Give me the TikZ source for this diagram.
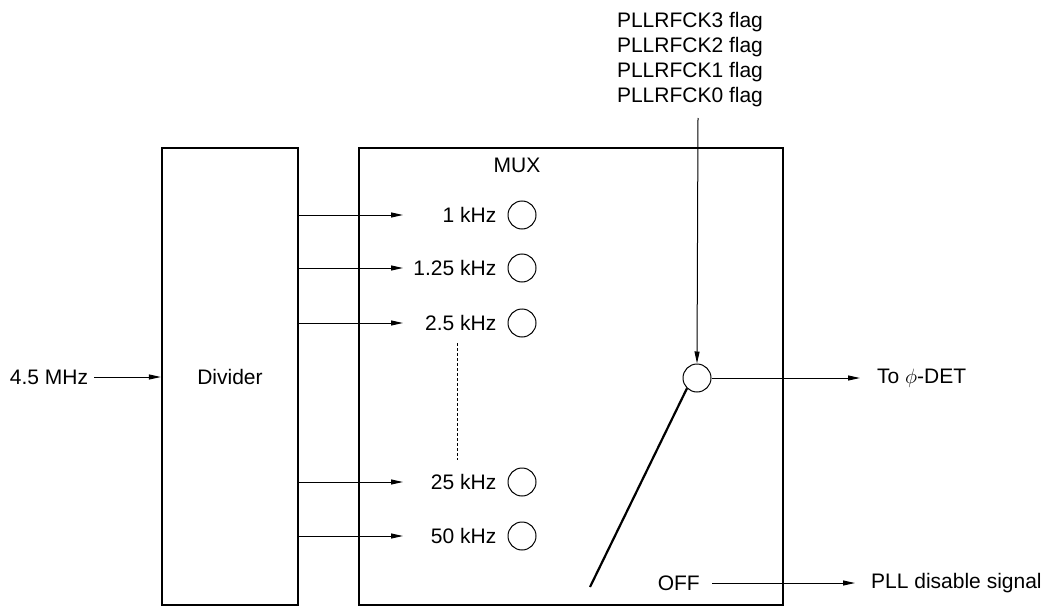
\documentclass[tikz,border=0pt]{standalone}
\usepackage{fontspec}
\setmainfont{Liberation Sans}
\usetikzlibrary{positioning,arrows.meta}

\begin{document}
\begin{tikzpicture}
	[x=1pt, y=-1pt, font=\fontsize{21}{25}\selectfont, inner sep=3pt,
	 block/.style={draw, line width=2.2pt, inner sep=0pt},
	 sig/.style={line width=1pt, -{Triangle[length=12pt,width=5pt]}},
	 tap/.style={draw, circle, line width=1pt, minimum size=28pt, inner sep=0pt}]
	\useasboundingbox (0,0) rectangle (1052,607);

	\node[block, minimum width=136pt, minimum height=457pt] (div) at (230,376.5) {Divider};
	\node[block, minimum width=424pt, minimum height=457pt] (mux) at (571,376.5) {};
	\node (muxlbl) at (517,165) {MUX};

	\node (inp) at (49,377) {4.5 MHz};
	\draw[sig, shorten <=3pt] (inp.east) -- (div.west |- inp);

	% divider outputs into the mux taps
	\foreach \y/\f [count=\i] in {215/1 kHz, 268/1.25 kHz, 323/2.5 kHz, 482/25 kHz, 536/50 kHz} {
		\node[tap] (in\i) at (522,\y) {};
		\node[left=8pt of in\i] (f\i) {\f};
		\coordinate (a\i) at (403,\y);
		\draw[sig] (div.east |- a\i) -- (a\i);
	}
	\draw[line width=0.8pt, dash pattern=on 3pt off 2pt] (457,343) -- (457,460);

	% selector
	\node[tap] (sw) at (697,378) {};
	\node[align=center, anchor=north] (flags) at (690,9)
		{PLLRFCK3 flag\\PLLRFCK2 flag\\PLLRFCK1 flag\\PLLRFCK0 flag};
	\coordinate (fl) at (698,118);
	\draw[sig] (fl) -- (sw.north);
	\coordinate (det) at (860,378);
	\node[anchor=west] (todet) at (874,378) {To $\phi$-DET};
	\draw[sig] (sw.east) -- (det);
	\coordinate (swend) at (590,587);
	\draw[line width=2.2pt] (sw.226) -- (swend);

	\node[anchor=east] (off) at (703,583) {OFF};
	\coordinate (pll) at (855,583);
	\node[anchor=west] (plltxt) at (868,583) {PLL disable signal};
	\draw[sig] ([xshift=9pt]off.east) -- (pll);
\end{tikzpicture}
\end{document}
